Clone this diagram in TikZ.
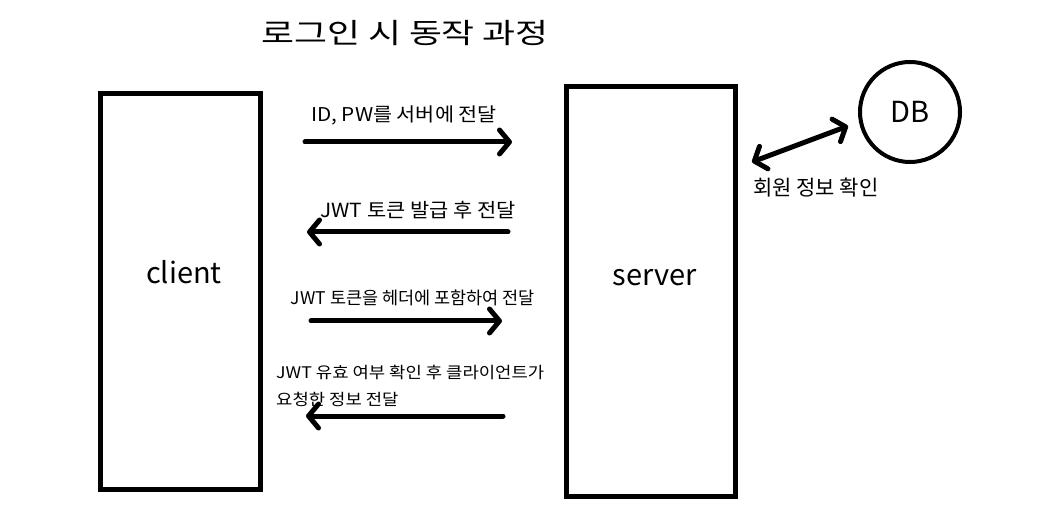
\documentclass[tikz,border=0pt]{standalone}
\usepackage{fontspec}
\setmainfont{Noto Sans CJK KR}
\usetikzlibrary{arrows.meta}
\newcommand{\wx}[2]{\scalebox{#1}[1]{#2}}
\begin{document}
\begin{tikzpicture}[x=1pt,y=-1pt,
  box/.style={draw, line width=5pt, inner sep=0pt},
  msg/.style={line width=5pt, line cap=round, -{Straight Barb[length=10pt,width=24pt,round]}},
  both/.style={line width=5pt, line cap=round, {Straight Barb[length=10pt,width=24pt,round]}-{Straight Barb[length=10pt,width=24pt,round]}},
  lbl/.style={inner sep=0pt, font=\fontsize{19}{23}\selectfont},
  big/.style={inner sep=0pt, font=\fontsize{29}{34}\selectfont}]
\useasboundingbox (0,0) rectangle (1041,526);
\node[inner sep=0pt, font=\fontsize{28}{34}\selectfont] (title) at (405,33) {\wx{1.28}{로그인 시 동작 과정}};
\node[box, minimum width=160pt, minimum height=396pt] (client) at (180.5,291.5) {};
\node[box, minimum width=168.5pt, minimum height=409pt] (server) at (650.75,291.5) {};
\node[draw, circle, line width=4pt, minimum size=100pt, inner sep=0pt] (db) at (910,112) {};
\node[big] (clienttxt) at (184,272) {client};
\node[big] (servertxt) at (655,278) {server};
\node[big] (dbtxt) at (910,112) {DB};
\coordinate (a1s) at (305,142); \coordinate (a1e) at (512,142);
\coordinate (a2s) at (508,232); \coordinate (a2e) at (307,232);
\coordinate (a3s) at (311,321); \coordinate (a3e) at (502,321);
\coordinate (a4s) at (503,416); \coordinate (a4e) at (306,416);
\coordinate (dA) at (752,162); \coordinate (dB) at (848,126);
\draw[msg] (a1s) -- (a1e);
\draw[msg] (a2s) -- (a2e);
\draw[msg] (a3s) -- (a3e);
\draw[msg] (a4s) -- (a4e);
\draw[both] (dA) -- (dB);
\node[lbl] (l1) at (404,115) {\wx{1.09}{ID, PW를 서버에 전달}};
\node[lbl, font=\fontsize{19.5}{23}\selectfont] (l2) at (418,210) {\wx{1.07}{JWT 토큰 발급 후 전달}};
\node[lbl, font=\fontsize{17.5}{20}\selectfont] (l3) at (413,298) {JWT 토큰을 헤더에 포함하여 전달};
\node[lbl, anchor=west, font=\fontsize{16}{25}\selectfont] (l4) at (276,387) {\wx{1.11}{\begin{tabular}{@{}l@{}}JWT 유효 여부 확인 후 클라이언트가\\[2pt]요청한 정보 전달\end{tabular}}};
\node[lbl, anchor=west, font=\fontsize{21}{25}\selectfont] (l5) at (753,188) {회원 정보 확인};
\end{tikzpicture}
\end{document}
